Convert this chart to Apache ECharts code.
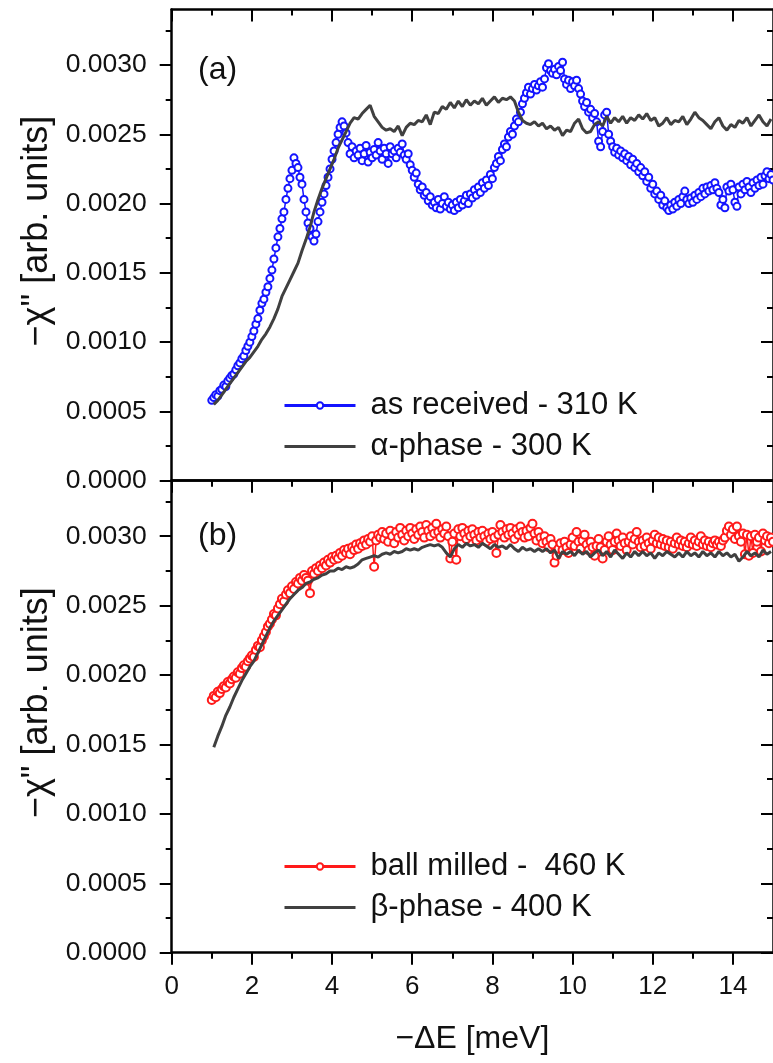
<!DOCTYPE html>
<html><head><meta charset="utf-8">
<script src="https://cdn.jsdelivr.net/npm/echarts@6.0.0/dist/echarts.min.js"></script>
<style>html,body{margin:0;padding:0;background:#fff}#chart{width:773px;height:1063px}</style>
</head><body><div id="chart"></div>
<script>
// energy grid of the circle data (meV)
const energyFine = [
1,1.05,1.1,1.15,1.2,1.25,1.3,1.35,1.4,1.45,1.5,1.55,1.6,1.65,1.7,1.75,1.8,1.85,1.9,1.95,
2,2.05,2.1,2.15,2.2,2.25,2.3,2.35,2.4,2.45,2.5,2.55,2.6,2.65,2.7,2.75,2.8,2.85,2.9,2.95,
3,3.05,3.1,3.15,3.2,3.25,3.3,3.35,3.4,3.45,3.5,3.55,3.6,3.65,3.7,3.75,3.8,3.85,3.9,3.95,
4,4.05,4.1,4.15,4.2,4.25,4.3,4.35,4.4,4.45,4.5,4.55,4.6,4.65,4.7,4.75,4.8,4.85,4.9,4.95,
5,5.05,5.1,5.15,5.2,5.25,5.3,5.35,5.4,5.45,5.5,5.55,5.6,5.65,5.7,5.75,5.8,5.85,5.9,5.95,
6,6.05,6.1,6.15,6.2,6.25,6.3,6.35,6.4,6.45,6.5,6.55,6.6,6.65,6.7,6.75,6.8,6.85,6.9,6.95,
7,7.05,7.1,7.15,7.2,7.25,7.3,7.35,7.4,7.45,7.5,7.55,7.6,7.65,7.7,7.75,7.8,7.85,7.9,7.95,
8,8.05,8.1,8.15,8.2,8.25,8.3,8.35,8.4,8.45,8.5,8.55,8.6,8.65,8.7,8.75,8.8,8.85,8.9,8.95,
9,9.05,9.1,9.15,9.2,9.25,9.3,9.35,9.4,9.45,9.5,9.55,9.6,9.65,9.7,9.75,9.8,9.85,9.9,9.95,
10,10.05,10.1,10.15,10.2,10.25,10.3,10.35,10.4,10.45,10.5,10.55,10.6,10.65,10.7,10.75,10.8,10.85,10.9,10.95,
11,11.05,11.1,11.15,11.2,11.25,11.3,11.35,11.4,11.45,11.5,11.55,11.6,11.65,11.7,11.75,11.8,11.85,11.9,11.95,
12,12.05,12.1,12.15,12.2,12.25,12.3,12.35,12.4,12.45,12.5,12.55,12.6,12.65,12.7,12.75,12.8,12.85,12.9,12.95,
13,13.05,13.1,13.15,13.2,13.25,13.3,13.35,13.4,13.45,13.5,13.55,13.6,13.65,13.7,13.75,13.8,13.85,13.9,13.95,
14,14.05,14.1,14.15,14.2,14.25,14.3,14.35,14.4,14.45,14.5,14.55,14.6,14.65,14.7,14.75,14.8,14.85,14.9,14.95,
15];
// energy grid of the reference (solid line) data (meV)
const energyCoarse = [
1.05,1.15,1.25,1.35,1.45,1.55,1.65,1.75,1.85,1.95,
2.05,2.15,2.25,2.35,2.45,2.55,2.65,2.75,2.85,2.95,
3.05,3.15,3.25,3.35,3.45,3.55,3.65,3.75,3.85,3.95,
4.05,4.15,4.25,4.35,4.45,4.55,4.65,4.75,4.85,4.95,
5.05,5.15,5.25,5.35,5.45,5.55,5.65,5.75,5.85,5.95,
6.05,6.15,6.25,6.35,6.45,6.55,6.65,6.75,6.85,6.95,
7.05,7.15,7.25,7.35,7.45,7.55,7.65,7.75,7.85,7.95,
8.05,8.15,8.25,8.35,8.45,8.55,8.65,8.75,8.85,8.95,
9.05,9.15,9.25,9.35,9.45,9.55,9.65,9.75,9.85,9.95,
10.05,10.15,10.25,10.35,10.45,10.55,10.65,10.75,10.85,10.95,
11.05,11.15,11.25,11.35,11.45,11.55,11.65,11.75,11.85,11.95,
12.05,12.15,12.25,12.35,12.45,12.55,12.65,12.75,12.85,12.95,
13.05,13.15,13.25,13.35,13.45,13.55,13.65,13.75,13.85,13.95,
14.05,14.15,14.25,14.35,14.45,14.55,14.65,14.75,14.85,14.95];

// panel (a): as received - 310 K
const chiAsReceived310K = [
0.00058,0.00060,0.00062,0.00061,0.00065,0.00066,0.00069,0.00068,0.00072,0.00074,0.00076,0.00077,0.00080,0.00083,0.00085,0.00088,0.00090,0.00094,0.00097,0.00100,
0.00104,0.00108,0.00113,0.00117,0.00123,0.00128,0.00131,0.00136,0.00140,0.00146,0.00152,0.00160,0.00168,0.00176,0.00182,0.00189,0.00194,0.00203,0.00211,0.00218,
0.00224,0.00233,0.00229,0.00226,0.00219,0.00214,0.00203,0.00194,0.00186,0.00182,0.00176,0.00173,0.00178,0.00187,0.00194,0.00201,0.00207,0.00213,0.00219,0.00225,
0.00232,0.00238,0.00244,0.00250,0.00255,0.00259,0.00256,0.00251,0.00244,0.00236,0.00241,0.00233,0.00238,0.00235,0.00240,0.00231,0.00236,0.00242,0.00230,0.00237,
0.00233,0.00239,0.00235,0.00244,0.00238,0.00232,0.00240,0.00236,0.00229,0.00241,0.00236,0.00238,0.00233,0.00240,0.00237,0.00243,0.00235,0.00232,0.00236,0.00228,
0.00224,0.00219,0.00222,0.00214,0.00210,0.00212,0.00206,0.00208,0.00202,0.00205,0.00199,0.00201,0.00197,0.00203,0.00196,0.00200,0.00205,0.00198,0.00201,0.00196,
0.00199,0.00195,0.00201,0.00197,0.00203,0.00199,0.00202,0.00206,0.00200,0.00207,0.00204,0.00210,0.00206,0.00212,0.00208,0.00215,0.00211,0.00217,0.00213,0.00221,
0.00218,0.00226,0.00229,0.00234,0.00231,0.00239,0.00243,0.00241,0.00248,0.00252,0.00250,0.00256,0.00261,0.00259,0.00266,0.00272,0.00276,0.00280,0.00284,0.00279,
0.00283,0.00286,0.00282,0.00285,0.00288,0.00284,0.00290,0.00298,0.00301,0.00296,0.00294,0.00297,0.00293,0.00299,0.00296,0.00302,0.00290,0.00286,0.00289,0.00283,
0.00288,0.00285,0.00289,0.00283,0.00279,0.00274,0.00270,0.00273,0.00266,0.00268,0.00262,0.00265,0.00259,0.00245,0.00241,0.00252,0.00264,0.00266,0.00250,0.00245,
0.00241,0.00237,0.00240,0.00235,0.00238,0.00233,0.00236,0.00231,0.00234,0.00228,0.00232,0.00226,0.00229,0.00223,0.00226,0.00220,0.00223,0.00216,0.00219,0.00211,
0.00214,0.00207,0.00209,0.00203,0.00206,0.00199,0.00202,0.00197,0.00195,0.00199,0.00196,0.00201,0.00198,0.00203,0.00200,0.00205,0.00209,0.00203,0.00200,0.00204,
0.00201,0.00206,0.00203,0.00208,0.00205,0.00211,0.00207,0.00212,0.00209,0.00213,0.00210,0.00215,0.00211,0.00208,0.00199,0.00203,0.00197,0.00212,0.00209,0.00214,
0.00210,0.00201,0.00198,0.00212,0.00207,0.00214,0.00210,0.00216,0.00212,0.00208,0.00215,0.00211,0.00217,0.00213,0.00219,0.00214,0.00220,0.00223,0.00218,0.00221,
0.00217];
// panel (a): alpha-phase - 300 K
const chiAlphaPhase300K = [
0.00055,0.00058,0.00062,0.00066,0.00070,0.00074,0.00078,0.00082,0.00086,0.00089,
0.00093,0.00097,0.00102,0.00106,0.00111,0.00117,0.00124,0.00133,0.00139,0.00145,
0.00151,0.00157,0.00166,0.00174,0.00183,0.00194,0.00203,0.00211,0.00218,0.00225,
0.00232,0.00240,0.00246,0.00252,0.00258,0.00262,0.00261,0.00265,0.00268,0.00271,
0.00263,0.00259,0.00255,0.00253,0.00254,0.00252,0.00256,0.00249,0.00255,0.00258,
0.00257,0.00260,0.00259,0.00264,0.00257,0.00266,0.00265,0.00270,0.00268,0.00273,
0.00269,0.00274,0.00270,0.00275,0.00271,0.00274,0.00272,0.00276,0.00271,0.00274,
0.00277,0.00273,0.00276,0.00275,0.00277,0.00274,0.00266,0.00260,0.00258,0.00257,
0.00259,0.00256,0.00258,0.00254,0.00256,0.00253,0.00255,0.00249,0.00253,0.00252,
0.00258,0.00261,0.00254,0.00251,0.00252,0.00257,0.00259,0.00256,0.00263,0.00258,
0.00262,0.00259,0.00263,0.00258,0.00262,0.00260,0.00264,0.00261,0.00265,0.00260,
0.00262,0.00256,0.00258,0.00262,0.00257,0.00260,0.00259,0.00263,0.00257,0.00261,
0.00266,0.00262,0.00260,0.00257,0.00254,0.00259,0.00262,0.00256,0.00253,0.00257,
0.00255,0.00260,0.00258,0.00262,0.00256,0.00260,0.00264,0.00259,0.00256,0.00261];
// panel (b): ball milled - 460 K
const chiBallMilled460K = [
0.00182,0.00185,0.00184,0.00188,0.00187,0.00190,0.00192,0.00191,0.00195,0.00194,0.00197,0.00199,0.00198,0.00202,0.00201,0.00205,0.00207,0.00206,0.00210,0.00212,
0.00214,0.00213,0.00218,0.00221,0.00220,0.00225,0.00228,0.00231,0.00235,0.00237,0.00240,0.00244,0.00243,0.00248,0.00251,0.00255,0.00253,0.00258,0.00261,0.00259,
0.00264,0.00262,0.00267,0.00266,0.00270,0.00268,0.00272,0.00270,0.00268,0.00259,0.00275,0.00273,0.00277,0.00275,0.00279,0.00277,0.00281,0.00279,0.00283,0.00281,
0.00285,0.00283,0.00286,0.00284,0.00288,0.00286,0.00290,0.00288,0.00291,0.00287,0.00292,0.00290,0.00294,0.00291,0.00295,0.00293,0.00297,0.00294,0.00298,0.00296,
0.00300,0.00278,0.00297,0.00301,0.00299,0.00303,0.00298,0.00302,0.00296,0.00304,0.00300,0.00295,0.00303,0.00299,0.00306,0.00301,0.00297,0.00304,0.00300,0.00306,
0.00302,0.00298,0.00305,0.00301,0.00307,0.00303,0.00299,0.00308,0.00304,0.00300,0.00306,0.00302,0.00309,0.00303,0.00299,0.00305,0.00302,0.00307,0.00300,0.00284,
0.00296,0.00302,0.00283,0.00305,0.00300,0.00306,0.00302,0.00298,0.00304,0.00300,0.00305,0.00301,0.00297,0.00303,0.00299,0.00304,0.00300,0.00296,0.00302,0.00298,
0.00303,0.00299,0.00288,0.00301,0.00308,0.00303,0.00299,0.00305,0.00301,0.00306,0.00302,0.00298,0.00305,0.00301,0.00307,0.00303,0.00299,0.00304,0.00300,0.00306,
0.00309,0.00302,0.00297,0.00303,0.00299,0.00295,0.00300,0.00296,0.00292,0.00298,0.00294,0.00281,0.00286,0.00291,0.00295,0.00290,0.00296,0.00292,0.00288,0.00294,
0.00299,0.00293,0.00303,0.00296,0.00291,0.00297,0.00301,0.00294,0.00290,0.00296,0.00292,0.00286,0.00293,0.00298,0.00292,0.00284,0.00290,0.00296,0.00300,0.00294,
0.00290,0.00296,0.00302,0.00297,0.00293,0.00299,0.00295,0.00290,0.00296,0.00300,0.00294,0.00298,0.00303,0.00296,0.00292,0.00297,0.00293,0.00299,0.00295,0.00291,
0.00297,0.00301,0.00295,0.00299,0.00294,0.00298,0.00293,0.00297,0.00292,0.00296,0.00291,0.00295,0.00299,0.00294,0.00297,0.00293,0.00296,0.00292,0.00295,0.00299,
0.00294,0.00297,0.00293,0.00296,0.00300,0.00294,0.00297,0.00293,0.00296,0.00292,0.00295,0.00297,0.00294,0.00296,0.00293,0.00297,0.00299,0.00304,0.00307,0.00301,
0.00305,0.00298,0.00307,0.00300,0.00296,0.00302,0.00287,0.00301,0.00286,0.00300,0.00288,0.00301,0.00296,0.00299,0.00289,0.00302,0.00297,0.00300,0.00295,0.00299,
0.00296];
// panel (b): beta-phase - 400 K
const chiBetaPhase400K = [
0.00148,0.00156,0.00163,0.00171,0.00177,0.00184,0.00190,0.00196,0.00201,0.00206,
0.00210,0.00216,0.00222,0.00228,0.00234,0.00239,0.00243,0.00247,0.00251,0.00255,
0.00258,0.00261,0.00263,0.00266,0.00267,0.00269,0.00270,0.00272,0.00273,0.00275,
0.00275,0.00277,0.00276,0.00278,0.00277,0.00278,0.00280,0.00283,0.00284,0.00285,
0.00286,0.00285,0.00287,0.00288,0.00287,0.00289,0.00288,0.00289,0.00291,0.00290,
0.00291,0.00290,0.00292,0.00293,0.00294,0.00293,0.00294,0.00292,0.00288,0.00285,
0.00291,0.00294,0.00292,0.00295,0.00293,0.00294,0.00292,0.00295,0.00293,0.00291,
0.00294,0.00292,0.00293,0.00291,0.00294,0.00291,0.00289,0.00292,0.00290,0.00291,
0.00289,0.00291,0.00289,0.00291,0.00288,0.00290,0.00284,0.00289,0.00287,0.00289,
0.00286,0.00290,0.00287,0.00289,0.00285,0.00288,0.00290,0.00286,0.00289,0.00285,
0.00290,0.00287,0.00284,0.00288,0.00285,0.00289,0.00286,0.00289,0.00286,0.00288,
0.00284,0.00288,0.00286,0.00289,0.00287,0.00285,0.00288,0.00285,0.00289,0.00286,
0.00288,0.00285,0.00289,0.00286,0.00288,0.00285,0.00289,0.00286,0.00288,0.00285,
0.00287,0.00282,0.00285,0.00289,0.00286,0.00288,0.00285,0.00290,0.00287,0.00289];

const xMajorTicks = [0, 2, 4, 6, 8, 10, 12, 14];
const xMinorTicks = [1, 3, 5, 7, 9, 11, 13];
const yMajorTicks = [0, 0.0005, 0.001, 0.0015, 0.002, 0.0025, 0.003];
const yMinorTicks = [0.00025, 0.00075, 0.00125, 0.00175, 0.00225, 0.00275, 0.00325];
const seriesNames = ['as received - 310 K', 'α-phase - 300 K', 'ball milled -  460 K', 'β-phase - 400 K'];
const panelLabels = ['(a)', '(b)'];
const xTitle = '−ΔE [meV]';
const yTitle = '−χ" [arb. units]';

const FONT = '"Liberation Sans", Arial, sans-serif';
const AX = '#000';
const TXT = '#111';
const X0 = 171.7, PW = 606.75;
const gridTops = [9.6, 480.7], gridHeights = [471.1, 472];

function pairs(xs, ys) { return xs.map((x, i) => [x, ys[i]]); }

const xAxis = [], yAxis = [];
[0, 1].forEach(g => {
  const bx = {gridIndex: g, type: 'value', min: 0, max: 15, splitLine: {show: false}, axisLabel: {show: false}};
  xAxis.push(Object.assign({}, bx, {
    position: 'bottom',
    axisLine: {show: true, onZero: false, lineStyle: {color: AX, width: 2.5}},
    axisTick: {show: true, inside: false, length: 12, customValues: xMajorTicks, lineStyle: {color: AX, width: 2}},
    axisLabel: g === 1 ? {show: true, customValues: xMajorTicks, margin: 21, fontSize: 26, color: TXT, fontFamily: FONT} : {show: false},
    name: g === 1 ? xTitle : '', nameLocation: 'middle', nameGap: 70,
    nameTextStyle: {fontSize: 32, color: TXT, fontFamily: FONT}
  }));
  xAxis.push(Object.assign({}, bx, {position: 'bottom', axisLine: {show: false, onZero: false},
    axisTick: {show: true, inside: false, length: 6, customValues: xMinorTicks, lineStyle: {color: AX, width: 2}}}));
  xAxis.push(Object.assign({}, bx, {position: 'top', axisLine: {show: true, onZero: false, lineStyle: {color: AX, width: 2.5}},
    axisTick: {show: true, inside: true, length: 12, customValues: xMajorTicks, lineStyle: {color: AX, width: 2}}}));
  xAxis.push(Object.assign({}, bx, {position: 'top', axisLine: {show: false, onZero: false},
    axisTick: {show: true, inside: true, length: 6, customValues: xMinorTicks, lineStyle: {color: AX, width: 2}}}));

  const by = {gridIndex: g, type: 'value', min: 0, max: 0.0034, splitLine: {show: false}, axisLabel: {show: false}};
  yAxis.push(Object.assign({}, by, {
    position: 'left',
    axisLine: {show: true, onZero: false, lineStyle: {color: AX, width: 2.5}},
    axisTick: {show: true, inside: false, length: 12, customValues: yMajorTicks, lineStyle: {color: AX, width: 2}},
    axisLabel: {show: true, customValues: yMajorTicks, margin: 25, fontSize: 26.5, color: TXT, fontFamily: FONT,
      formatter: v => Number(v).toFixed(4)},
    name: yTitle, nameLocation: 'middle', nameRotate: 90, nameGap: 109,
    nameTextStyle: {fontSize: 36, color: TXT, fontFamily: FONT, padding: [0, 0, 0, 28]}
  }));
  yAxis.push(Object.assign({}, by, {position: 'left', axisLine: {show: false, onZero: false},
    axisTick: {show: true, inside: false, length: 6, customValues: yMinorTicks, lineStyle: {color: AX, width: 2}}}));
  yAxis.push(Object.assign({}, by, {position: 'right', axisLine: {show: true, onZero: false, lineStyle: {color: AX, width: 2.5}},
    axisTick: {show: true, inside: true, length: 12, customValues: yMajorTicks, lineStyle: {color: AX, width: 2}}}));
  yAxis.push(Object.assign({}, by, {position: 'right', axisLine: {show: false, onZero: false},
    axisTick: {show: true, inside: true, length: 6, customValues: yMinorTicks, lineStyle: {color: AX, width: 2}}}));
});

const BLUE = '#1414ff', RED = '#ff1a1a', GRAY = '#404040';
const legendBase = {orient: 'vertical', left: 283, itemWidth: 71, itemHeight: 8, itemGap: 10, padding: 0,
  selectedMode: false, lineStyle: {width: 3},
  textStyle: {fontSize: 31, color: TXT, fontFamily: FONT, padding: [0, 0, 0, 10]}};
const hideMarker = {opacity: 0};

const option = {
  animation: false,
  backgroundColor: '#fff',
  grid: [0, 1].map(g => ({left: X0, top: gridTops[g], width: PW, height: gridHeights[g], containLabel: false})),
  xAxis, yAxis,
  legend: [
    Object.assign({}, legendBase, {top: 390, data: [{name: seriesNames[0]}, {name: seriesNames[1], itemStyle: hideMarker}]}),
    Object.assign({}, legendBase, {top: 851, data: [{name: seriesNames[2]}, {name: seriesNames[3], itemStyle: hideMarker}]})
  ],
  graphic: panelLabels.map((t, i) => ({type: 'text', left: 198, top: i === 0 ? 54 : 520,
    style: {text: t, font: '32px "Liberation Sans", Arial, sans-serif', fill: TXT}})),
  series: [
    {name: seriesNames[0], type: 'line', xAxisIndex: 0, yAxisIndex: 0, data: pairs(energyFine, chiAsReceived310K),
     symbol: 'emptyCircle', symbolSize: 7, showSymbol: true, color: BLUE,
     itemStyle: {color: BLUE, borderWidth: 1.5}, lineStyle: {color: BLUE, width: 1.5}, z: 2},
    {name: seriesNames[1], type: 'line', xAxisIndex: 0, yAxisIndex: 0, data: pairs(energyCoarse, chiAlphaPhase300K),
     symbol: 'none', color: GRAY, lineStyle: {color: GRAY, width: 3}, z: 3},
    {name: seriesNames[2], type: 'line', xAxisIndex: 4, yAxisIndex: 4, data: pairs(energyFine, chiBallMilled460K),
     symbol: 'emptyCircle', symbolSize: 8, showSymbol: true, color: RED,
     itemStyle: {color: RED, borderWidth: 1.6}, lineStyle: {color: RED, width: 1.5}, z: 2},
    {name: seriesNames[3], type: 'line', xAxisIndex: 4, yAxisIndex: 4, data: pairs(energyCoarse, chiBetaPhase400K),
     symbol: 'none', color: GRAY, lineStyle: {color: GRAY, width: 3}, z: 3}
  ]
};
const chart = echarts.init(document.getElementById('chart'), null, {renderer: 'canvas', width: 773, height: 1063});
chart.setOption(option);
</script></body></html>
